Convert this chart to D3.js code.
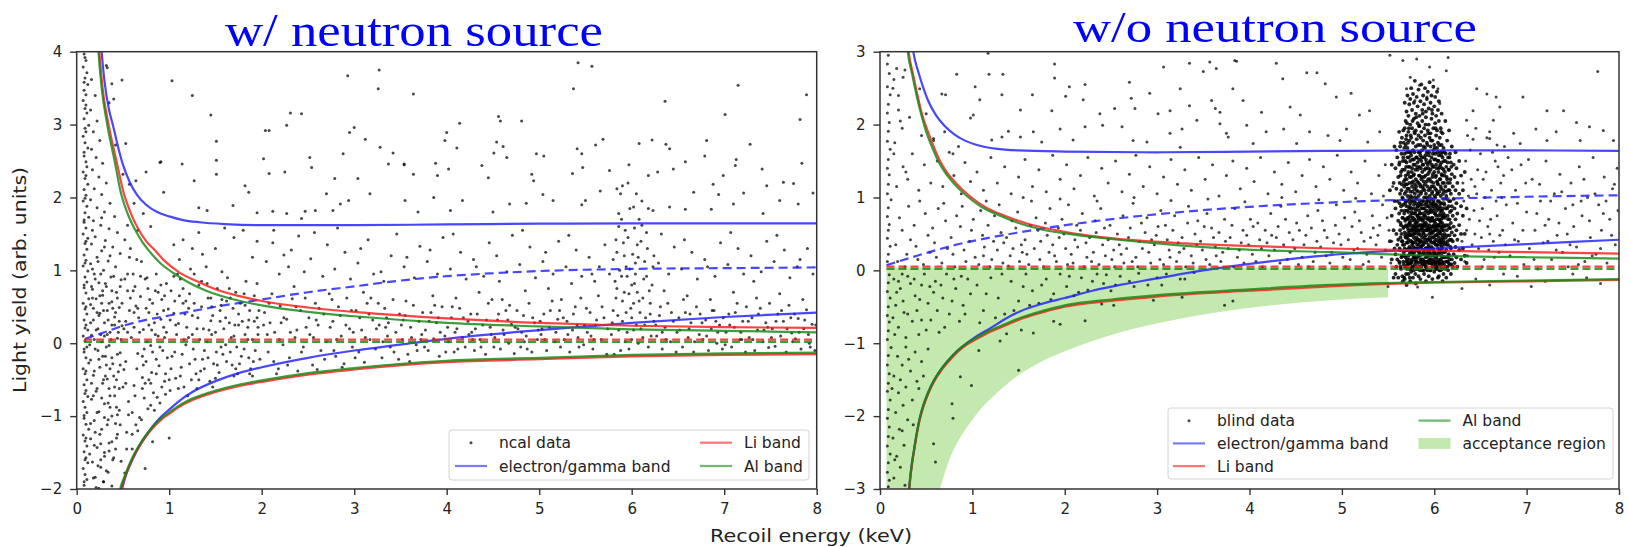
<!DOCTYPE html>
<html><head><meta charset="utf-8">
<script src="https://cdn.jsdelivr.net/npm/d3@7"></script>
<style>body{margin:0;background:#fff}svg{display:block}</style>
</head><body>
<svg id="chart" width="1629" height="547"></svg>
<script>
const xTicks=[0,1,2,3,4,5,6,7,8];
const yTicksL=[-2,-1,0,1,2,3,4];
const yTicksR=[-3,-2,-1,0,1,2,3];
const titleL="w/ neutron source", titleR="w/o neutron source";
const xLabel="Recoil energy (keV)", yLabel="Light yield (arb. units)";
const legendL=[["ncal data","dot"],["electron/gamma band","eg"],["Li band","li"],["Al band","al"]];
const legendR=[["blind data","dot"],["electron/gamma band","eg"],["Li band","li"],["Al band","al"],["acceptance region","acc"]];

// ---- left panel curves (x keV, light yield) ----
const egUpperL=[[0.25,4.4],[0.27,4.0],[0.3,3.6],[0.35,3.2],[0.39,3.0],[0.45,2.68],[0.5,2.45],[0.57,2.22],[0.65,2.04],[0.75,1.9],[0.87,1.8],[1.0,1.74],[1.15,1.69],[1.33,1.66],[1.6,1.635],[2,1.62],[3,1.62],[4,1.63],[5,1.64],[6,1.645],[7,1.645],[8,1.645]];
const egMeanL=[[0.09,0.06],[0.3,0.15],[0.5,0.24],[0.75,0.32],[1,0.38],[1.5,0.5],[2,0.6],[2.5,0.7],[3,0.78],[3.5,0.86],[4,0.92],[4.5,0.96],[5,0.99],[6,1.02],[7,1.03],[8,1.04]];
const egLowerL=[[0.44,-2.3],[0.49,-2],[0.53,-1.82],[0.58,-1.66],[0.64,-1.5],[0.7,-1.36],[0.77,-1.23],[0.84,-1.11],[0.92,-1.0],[1.0,-0.91],[1.1,-0.8],[1.25,-0.67],[1.5,-0.52],[1.75,-0.41],[2,-0.33],[2.5,-0.2],[3,-0.1],[3.5,-0.02],[4,0.06],[5,0.18],[6,0.28],[7,0.36],[8,0.42]];
const liUpperL=[[0.22,4.5],[0.245,4],[0.28,3.5],[0.345,3],[0.43,2.5],[0.51,2.05],[0.58,1.8],[0.66,1.58],[0.75,1.4],[0.85,1.27],[0.95,1.13],[1.1,0.98],[1.3,0.85],[1.5,0.74],[1.75,0.65],[2,0.58],[2.5,0.49],[3,0.43],[4,0.34],[5,0.28],[6,0.24],[7,0.22],[8,0.21]];
const liLowerL=[[0.43,-2.3],[0.475,-2.02],[0.52,-1.84],[0.57,-1.68],[0.63,-1.52],[0.69,-1.39],[0.76,-1.26],[0.84,-1.14],[0.92,-1.04],[1.0,-0.97],[1.1,-0.88],[1.25,-0.78],[1.5,-0.67],[1.75,-0.59],[2,-0.53],[2.5,-0.43],[3,-0.36],[4,-0.26],[5,-0.22],[6,-0.18],[7,-0.16],[8,-0.15]];
const alUpperL=[[0.21,4.5],[0.235,4],[0.27,3.5],[0.33,3],[0.41,2.5],[0.48,2.05],[0.55,1.78],[0.63,1.56],[0.72,1.37],[0.82,1.21],[0.92,1.08],[1.05,0.96],[1.2,0.84],[1.4,0.72],[1.7,0.6],[2,0.52],[2.5,0.43],[3,0.37],[4,0.28],[5,0.23],[6,0.19],[7,0.17],[8,0.15]];
const alLowerL=[[0.43,-2.3],[0.47,-2],[0.52,-1.82],[0.57,-1.66],[0.63,-1.5],[0.69,-1.37],[0.76,-1.24],[0.84,-1.12],[0.92,-1.02],[1.0,-0.95],[1.1,-0.86],[1.25,-0.76],[1.5,-0.65],[1.75,-0.57],[2,-0.51],[2.5,-0.41],[3,-0.34],[4,-0.24],[5,-0.2],[6,-0.16],[7,-0.14],[8,-0.13]];
const liMeanL=[[0.08,0.05],[8,0.05]];
const alMeanL=[[0.08,0.02],[8,0.02]];

// ---- right panel curves ----
const egUpperR=[[0.32,3.4],[0.36,3],[0.42,2.7],[0.47,2.5],[0.52,2.33],[0.6,2.14],[0.7,1.98],[0.8,1.87],[0.92,1.78],[1.08,1.71],[1.25,1.67],[1.5,1.645],[2,1.63],[3,1.62],[4,1.63],[5,1.64],[6,1.645],[7,1.645],[8,1.64]];
const egMeanR=[[0.07,0.07],[0.4,0.2],[0.79,0.34],[1.5,0.52],[2.24,0.66],[3,0.77],[3.86,0.86],[4.87,0.93],[6,0.98],[7,1.01],[8,1.03]];
const egLowerR=[[0.29,-3.4],[0.315,-3],[0.34,-2.7],[0.37,-2.45],[0.4,-2.22],[0.43,-2.03],[0.47,-1.85],[0.52,-1.68],[0.58,-1.52],[0.66,-1.36],[0.75,-1.22],[0.84,-1.1],[0.94,-1.0],[1.05,-0.9],[1.2,-0.79],[1.35,-0.67],[1.52,-0.56],[1.75,-0.46],[2,-0.38],[2.3,-0.28],[2.6,-0.2],[3,-0.11],[3.5,0.0],[4.2,0.12],[4.87,0.21],[6,0.3],[7,0.36],[8,0.42]];
const liUpperR=[[0.28,3.4],[0.31,3],[0.36,2.68],[0.41,2.38],[0.46,2.12],[0.52,1.9],[0.58,1.7],[0.65,1.5],[0.72,1.35],[0.82,1.2],[0.97,1.02],[1.15,0.86],[1.37,0.74],[1.6,0.64],[1.87,0.56],[2.3,0.47],[2.78,0.41],[3.3,0.37],[3.86,0.34],[4.87,0.3],[6,0.27],[7,0.25],[8,0.23]];
const liLowerR=[[0.29,-3.4],[0.315,-3.02],[0.34,-2.72],[0.37,-2.47],[0.4,-2.24],[0.43,-2.05],[0.47,-1.87],[0.52,-1.7],[0.58,-1.54],[0.66,-1.38],[0.75,-1.24],[0.84,-1.12],[0.94,-1.02],[1.05,-0.94],[1.2,-0.84],[1.35,-0.76],[1.5,-0.68],[1.75,-0.58],[2,-0.5],[2.5,-0.42],[3,-0.36],[4,-0.28],[4.87,-0.22],[6,-0.17],[7,-0.15],[8,-0.13]];
const alUpperR=[[0.27,3.4],[0.3,3],[0.35,2.68],[0.4,2.38],[0.45,2.12],[0.5,1.9],[0.56,1.7],[0.63,1.5],[0.7,1.35],[0.8,1.19],[0.93,1.03],[1.1,0.87],[1.3,0.75],[1.5,0.65],[1.75,0.56],[2.1,0.49],[2.5,0.43],[3,0.37],[3.86,0.29],[4.87,0.25],[6,0.2],[7,0.18],[8,0.16]];
const alLowerR=[[0.29,-3.4],[0.315,-3],[0.34,-2.7],[0.37,-2.45],[0.4,-2.22],[0.43,-2.03],[0.47,-1.85],[0.52,-1.68],[0.58,-1.52],[0.66,-1.36],[0.75,-1.22],[0.84,-1.1],[0.94,-1.0],[1.05,-0.92],[1.2,-0.82],[1.35,-0.74],[1.5,-0.66],[1.75,-0.56],[2,-0.48],[2.5,-0.4],[3,-0.34],[4,-0.26],[4.87,-0.2],[6,-0.16],[7,-0.14],[8,-0.12]];
const liMeanR=[[0.07,0.05],[8,0.05]];
const alMeanR=[[0.07,0.02],[8,0.02]];
const accLowerR=[[0.07,-3.6],[0.5,-3.6],[0.6,-3.25],[0.65,-3.0],[0.75,-2.6],[0.87,-2.29],[1.0,-2.05],[1.08,-1.92],[1.25,-1.7],[1.52,-1.42],[1.75,-1.25],[1.98,-1.12],[2.3,-0.97],[2.6,-0.85],[3.14,-0.69],[3.9,-0.53],[4.87,-0.41],[5.5,-0.37]];
const accTopR=0.04;

// ---- scatter: ncal data (flat x,y pairs) ----
const ncalData=[
0.08,3.97,0.1,3.88,0.07,3.79,0.11,3.71,0.09,3.64,0.12,3.55,0.08,3.47,0.1,3.41,0.07,3.33,0.09,3.22,0.11,3.16,0.08,3.08,0.13,2.99,0.1,2.9,0.07,2.84,0.09,2.75,0.12,2.68,0.08,2.57,0.1,2.49,0.11,2.42,0.07,2.35,0.09,2.26,0.12,2.18,0.08,2.11,0.1,2.03,0.07,1.95,0.11,1.88,0.09,1.79,0.13,1.73,0.08,1.66,0.1,1.58,0.07,1.5,0.12,1.44,0.09,1.37,0.11,1.29,0.08,1.21,0.1,1.14,0.07,1.06,0.12,0.99,0.09,0.91,0.11,0.84,0.08,0.76,0.1,0.69,0.13,0.61,0.07,0.55,0.09,0.47,0.11,0.4,0.08,0.32,0.1,0.25,0.12,0.18,0.07,0.1,0.09,0.03,0.11,-0.05,0.08,-0.12,0.1,-0.2,0.13,-0.27,0.07,-0.35,0.09,-0.42,0.11,-0.5,0.08,-0.57,0.1,-0.65,0.12,-0.73,0.07,-0.8,0.09,-0.88,0.11,-0.95,0.08,-1.03,0.1,-1.11,0.13,-1.18,0.07,-1.26,0.09,-1.34,0.11,-1.41,0.08,-1.49,0.1,-1.57,0.12,-1.64,0.07,-1.72,0.09,-1.8,0.11,-1.87,0.08,-1.95,
0.09,3.92,0.08,3.58,0.1,3.27,0.09,2.95,0.08,2.62,0.1,2.3,0.09,1.99,0.08,1.69,0.1,1.4,0.09,1.1,0.08,0.8,0.1,0.5,0.09,0.21,0.08,-0.08,0.1,-0.38,0.09,-0.69,0.08,-0.99,0.1,-1.3,0.09,-1.6,0.08,-1.9,
0.16,3.62,0.2,3.4,0.15,3.2,0.22,3.05,0.18,2.9,0.25,2.78,0.16,2.66,0.21,2.55,0.28,2.47,0.17,2.38,0.24,2.28,0.32,2.2,0.19,2.12,0.27,2.04,0.15,1.97,0.36,1.92,0.22,1.86,0.3,1.8,0.41,1.74,0.18,1.68,0.26,1.62,0.35,1.57,0.44,1.52,0.2,1.46,0.31,1.41,0.16,1.36,0.39,1.32,0.27,1.27,0.47,1.23,0.22,1.18,0.34,1.13,0.15,1.09,0.42,1.05,0.29,1.0,0.19,0.95,0.37,0.91,0.48,0.87,0.24,0.83,0.32,0.78,0.17,0.74,0.43,0.7,0.28,0.66,0.21,0.61,0.38,0.57,0.15,0.53,0.46,0.49,0.33,0.45,0.25,0.41,0.41,0.36,0.18,0.32,0.3,0.28,0.49,0.24,0.23,0.2,0.36,0.15,0.16,0.11,0.44,0.07,0.27,0.02,0.35,-0.03,0.2,-0.08,0.47,-0.13,0.31,-0.18,0.15,-0.23,0.39,-0.28,0.25,-0.33,0.45,-0.39,0.18,-0.44,0.33,-0.49,0.28,-0.55,0.41,-0.6,0.21,-0.66,0.36,-0.72,0.16,-0.77,0.3,-0.83,0.43,-0.88,0.24,-0.94,0.38,-1.0,0.19,-1.06,0.33,-1.12,0.27,-1.18,0.44,-1.25,0.15,-1.31,0.35,-1.37,0.22,-1.43,0.3,-1.5,0.4,-1.57,0.17,-1.63,0.26,-1.7,0.34,-1.77,0.2,-1.84,0.29,-1.9,0.38,-1.96,0.24,-1.99,
0.33,3.78,0.38,3.56,0.35,3.3,0.42,2.72,0.5,2.32,0.57,2.18,0.62,1.92,0.72,1.78,0.55,1.62,0.66,1.55,0.8,1.6,0.75,2.35,
0.52,1.42,0.57,1.18,0.61,0.95,0.55,0.72,0.64,0.51,0.53,0.3,0.59,0.08,0.66,-0.14,0.51,-0.36,0.62,-0.58,0.56,-0.8,0.68,-1.02,0.54,-1.22,0.6,-1.45,0.7,1.12,0.74,0.88,0.69,0.64,0.78,0.42,0.72,0.19,0.8,-0.03,0.75,-0.25,0.71,-0.47,0.83,-0.68,0.77,-0.9,0.86,0.95,0.88,0.7,0.82,0.55,0.91,0.33,0.85,0.12,0.93,-0.1,0.89,-0.31,0.95,-0.52,0.87,-0.74,0.97,0.82,0.99,0.47,0.94,0.22,0.98,-0.2,0.96,-0.42,0.58,1.3,0.63,0.78,0.67,0.35,0.73,-0.08,0.79,0.6,0.84,0.28,0.9,-0.05,0.57,0.45,0.53,-0.55,0.65,-0.35,0.76,0.02,0.81,-0.4,0.92,0.6,0.6,-0.95,0.66,-1.2,0.73,-0.75,0.55,0.15,0.69,0.92,0.86,-0.22,0.95,0.08,0.8,-0.55,0.62,0.22,0.71,-0.62,0.52,0.88,0.78,0.25,
0.82,-1.35,0.74,-1.72,1.0,-1.3,0.52,-1.78,
1.02,0.72,1.05,0.41,1.08,0.12,1.03,-0.18,1.07,-0.48,1.12,0.88,1.15,0.55,1.1,0.27,1.18,-0.02,1.13,-0.33,1.16,-0.6,1.22,0.68,1.25,0.38,1.21,0.08,1.28,-0.22,1.24,-0.5,1.32,0.8,1.35,0.5,1.3,0.2,1.38,-0.1,1.34,-0.38,1.42,0.62,1.45,0.31,1.41,0.02,1.48,-0.28,1.44,-0.52,1.52,0.75,1.55,0.45,1.5,0.15,1.58,-0.15,1.54,-0.4,1.62,0.58,1.65,0.28,1.61,-0.02,1.68,-0.3,1.72,0.7,1.75,0.4,1.7,0.1,1.78,-0.18,1.74,-0.42,1.82,0.52,1.85,0.22,1.81,-0.08,1.88,-0.35,1.92,0.65,1.95,0.35,1.9,0.05,1.98,-0.22,1.27,0.95,1.4,1.05,1.57,0.98,1.83,0.85,1.11,1.15,1.36,1.22,1.63,0.9,1.2,-0.72,1.47,-0.6,1.06,0.58,1.19,0.22,1.33,0.05,1.46,0.5,1.59,0.2,1.73,-0.05,1.87,0.45,1.96,0.12,1.14,-0.15,1.29,-0.42,1.43,0.18,1.66,0.62,1.79,0.3,1.93,-0.1,1.01,-0.65,1.23,1.02,1.56,-0.05,1.69,0.48,1.86,-0.2,1.09,0.95,
1.15,1.42,1.32,1.52,1.5,1.3,1.7,1.45,1.9,1.18,1.8,1.55,1.25,1.3,1.6,1.58,1.05,1.35,1.95,1.4,
1.03,3.6,1.25,3.4,1.45,3.13,1.51,2.77,1.51,2.51,1.51,2.32,0.91,2.49,1.14,2.46,1.27,2.23,1.32,1.86,1.41,1.82,2.04,2.92,2.08,2.92,2.27,2.99,2.31,3.16,2.43,3.15,2.02,2.53,2.08,2.33,2.25,2.35,2.52,2.55,2.54,2.41,2.93,3.67,3.27,3.75,3.26,3.49,2.95,2.89,3.0,2.96,3.12,2.8,2.88,2.6,3.28,2.69,3.42,2.61,3.37,2.46,3.54,2.46,3.64,3.42,3.04,2.26,3.17,2.05,2.94,1.96,2.85,1.91,2.79,2.26,2.7,2.05,2.77,1.82,2.58,1.82,2.47,1.81,2.43,1.71,2.27,1.78,2.12,1.81,1.95,1.79,1.82,2.16,1.86,2.07,1.69,1.89,2.13,1.55,0.49,3.61,0.32,3.81,0.4,3.35,0.53,2.74,0.64,2.23,0.94,2.07,0.9,2.48,
5.42,3.85,5.57,3.8,5.37,3.49,4.14,3.02,4.58,3.05,4.81,3.05,4.56,3.11,4.0,2.89,3.98,2.78,4.11,2.68,4.54,2.76,4.61,2.7,4.51,2.61,4.65,2.55,4.97,2.6,5.05,2.57,5.41,2.67,5.46,2.6,5.61,2.72,5.69,2.8,6.08,2.74,6.22,2.79,6.37,2.73,6.41,2.67,6.36,3.32,7.15,3.54,7.01,3.14,7.28,2.73,6.81,2.78,6.79,2.57,7.89,3.41,7.82,3.07,7.84,2.47,7.13,2.52,7.12,2.44,3.54,2.45,3.88,2.47,3.64,2.32,3.9,2.3,4.02,2.39,4.38,2.44,4.45,2.27,4.92,2.32,4.94,2.23,5.36,2.33,5.47,2.41,5.76,2.37,5.97,2.45,6.18,2.3,6.28,2.35,6.45,2.39,6.58,2.49,6.88,2.18,6.99,2.3,7.41,2.39,7.46,2.16,7.64,2.21,7.75,2.19,7.96,2.06,7.8,1.91,7.6,1.96,7.1,1.91,7.21,2.06,6.94,2.04,6.67,2.07,6.58,1.84,6.41,1.87,6.23,1.82,6.05,2.05,5.9,2.16,5.84,2.12,5.66,2.09,5.5,1.96,5.46,1.9,5.15,1.96,5.04,2.04,4.86,1.92,4.68,1.91,4.5,1.8,4.17,1.96,4.04,1.82,3.86,2.0,3.69,1.8,3.55,1.96,5.86,1.78,6.02,1.87,7.42,1.78,6.86,1.84,
2.03,0.42,2.07,-0.12,2.11,0.68,2.14,0.15,2.18,-0.35,2.2,0.51,2.23,-0.02,2.09,0.28,2.16,-0.42,2.05,1.12,2.19,0.95,2.12,1.38,2.24,1.21,
2.27,0.33,2.3,-0.2,2.33,0.61,2.36,0.08,2.39,-0.38,2.42,0.45,2.45,-0.05,2.48,0.22,2.35,0.78,2.29,1.05,2.4,1.47,2.46,0.98,2.32,1.28,
2.52,0.12,2.55,-0.3,2.58,0.55,2.61,0.25,2.64,-0.1,2.67,0.4,2.7,0.02,2.73,0.68,2.6,-0.36,2.53,1.16,2.66,0.92,2.71,1.35,2.57,1.52,
2.77,0.3,2.8,-0.18,2.83,0.5,2.86,0.1,2.89,-0.28,2.92,0.62,2.95,0.2,2.98,-0.05,2.85,0.38,2.79,1.02,2.9,1.25,2.96,0.88,2.82,1.58,
3.02,0.45,3.05,-0.12,3.08,0.18,3.11,-0.26,3.14,0.55,3.17,0.05,3.2,0.32,3.23,-0.08,3.1,0.7,3.04,1.1,3.15,1.42,3.21,0.95,3.07,1.3,
3.27,0.25,3.3,-0.2,3.33,0.48,3.36,0.1,3.39,-0.05,3.42,0.6,3.45,0.15,3.48,-0.22,3.35,0.35,3.29,0.98,3.4,1.2,3.46,1.5,3.32,0.85,
3.52,0.05,3.55,0.38,3.58,-0.15,3.61,0.22,3.64,0.52,3.67,-0.02,3.7,0.3,3.73,0.12,3.6,-0.25,3.54,1.05,3.65,0.9,3.71,1.33,3.57,1.18,
3.77,0.18,3.8,-0.1,3.83,0.42,3.86,0.06,3.89,0.28,3.92,-0.18,3.95,0.5,3.98,0.1,3.85,0.65,3.79,1.12,3.9,0.95,3.96,1.45,3.82,1.28,
4.02,0.02,4.05,0.35,4.08,-0.12,4.11,0.2,4.14,0.48,4.17,0.08,4.2,-0.05,4.23,0.3,4.1,0.62,4.04,1.02,4.15,1.25,4.21,0.88,4.07,1.5,
4.27,0.15,4.3,-0.1,4.33,0.4,4.36,0.05,4.39,0.25,4.42,-0.15,4.45,0.55,4.48,0.12,4.35,0.7,4.29,1.15,4.4,0.92,4.46,1.38,4.32,1.05,
4.52,0.08,4.55,0.32,4.58,-0.08,4.61,0.18,4.64,0.45,4.67,0.0,4.7,0.26,4.73,-0.14,4.6,0.6,4.54,1.2,4.65,0.98,4.71,1.48,4.57,0.85,
4.77,0.2,4.8,-0.05,4.83,0.38,4.86,0.1,4.89,0.55,4.92,-0.12,4.95,0.28,4.98,0.05,4.85,0.72,4.79,1.08,4.9,1.32,4.96,0.9,4.82,1.55,
5.02,0.12,5.05,0.4,5.08,-0.1,5.11,0.22,5.14,0.58,5.17,0.02,5.2,0.33,5.23,-0.05,5.1,0.75,5.04,1.12,5.15,0.95,5.21,1.4,5.07,1.25,
5.27,0.05,5.3,0.3,5.33,-0.12,5.36,0.18,5.39,0.5,5.42,0.08,5.45,0.62,5.48,-0.02,5.35,0.82,5.29,1.05,5.4,1.28,5.46,0.92,5.32,1.48,
5.52,0.15,5.55,0.42,5.58,-0.08,5.61,0.25,5.64,0.65,5.67,0.05,5.7,0.35,5.73,-0.15,5.6,0.85,5.54,1.18,5.65,1.05,5.71,1.35,5.57,0.95,
6.27,0.1,6.3,0.38,6.33,-0.08,6.36,0.22,6.39,0.55,6.42,0.02,6.45,0.3,6.48,-0.12,6.35,0.72,6.29,1.1,6.4,0.95,6.46,1.32,6.32,1.5,
6.52,0.18,6.55,-0.05,6.58,0.42,6.61,0.08,6.64,0.28,6.67,-0.12,6.7,0.5,6.73,0.12,6.6,0.65,6.54,1.02,6.65,1.25,6.71,0.88,6.57,1.42,
6.77,0.05,6.8,0.32,6.83,-0.1,6.86,0.2,6.89,0.45,6.92,0.0,6.95,0.25,6.98,-0.08,6.85,0.6,6.79,1.15,6.9,0.92,6.96,1.38,6.82,1.05,
7.02,0.15,7.05,0.4,7.08,-0.05,7.11,0.22,7.14,0.55,7.17,0.05,7.2,0.3,7.23,-0.12,7.1,0.7,7.04,1.08,7.15,1.3,7.21,0.95,7.07,1.52,
7.27,0.08,7.3,0.35,7.33,-0.1,7.36,0.18,7.39,0.48,7.42,0.02,7.45,0.28,7.48,-0.06,7.35,0.62,7.29,1.2,7.4,0.98,7.46,1.4,7.32,0.85,
7.52,0.2,7.55,-0.04,7.58,0.4,7.61,0.1,7.64,0.3,7.67,-0.12,7.7,0.52,7.73,0.14,7.6,0.68,7.54,1.12,7.65,1.28,7.71,0.9,7.57,1.48,
7.77,0.06,7.8,0.34,7.83,-0.08,7.86,0.2,7.89,0.46,7.92,0.0,7.95,0.26,7.98,-0.1,7.85,0.6,7.79,1.05,7.9,1.3,7.96,0.95,7.82,1.15,
5.78,0.12,5.8,0.45,5.82,0.85,5.84,1.25,5.86,1.6,5.88,-0.1,5.9,0.3,5.92,0.7,5.94,1.05,5.96,1.45,5.98,1.85,6.0,0.05,6.02,0.55,6.04,0.95,6.06,1.35,6.08,1.7,6.1,0.2,6.12,0.62,6.14,1.12,6.16,1.52,6.18,-0.05,6.2,0.4,6.22,0.8,6.24,1.2,5.79,0.28,5.83,0.62,5.87,1.0,5.91,1.38,5.95,0.15,5.99,0.48,6.03,0.82,6.07,1.18,6.11,1.95,6.15,0.35,6.19,0.72,6.23,1.05,5.81,-0.15,5.85,0.38,5.89,0.92,5.93,1.55,5.97,0.68,6.01,1.22,6.05,0.25,6.09,0.42,6.13,0.88,6.17,1.3,6.21,0.1,5.76,0.95,5.88,2.05,5.96,2.2,6.03,1.58,6.1,1.4,5.93,0.02,6.0,0.35,6.06,0.7,5.98,1.02,5.9,0.58,6.12,0.08,6.16,0.92,5.86,0.18,6.02,0.18,5.94,0.42,6.08,0.58,5.84,0.75,6.2,0.55,5.97,-0.08,6.04,1.1,5.92,1.2,6.14,0.25,5.8,1.15,6.24,0.3,6.0,0.8,6.07,0.0,5.95,0.92,5.89,1.7,6.11,1.62,6.18,1.85,5.83,1.42,
0.17,0.62,0.23,-0.1,0.29,0.45,0.35,-0.62,0.41,0.25,0.46,-0.92,0.19,-1.4,0.26,0.95,0.32,-0.3,0.38,0.72,0.44,-0.15,0.48,-1.62,0.21,0.18,0.27,-0.75,0.34,-1.05,0.4,-0.45,0.16,-0.55,0.24,0.38,0.3,-1.55,0.37,0.05,0.43,-1.3,0.49,0.55,0.18,-1.85,0.25,-1.25,0.31,0.82,0.36,-0.88,0.42,0.42,0.47,-0.3,0.2,0.88,0.28,-0.18,0.33,0.12,0.39,-1.6,0.45,0.15,0.15,0.28,0.22,-0.95,0.29,-1.9,0.35,0.55,0.41,-0.72,0.47,0.78,0.19,-0.38,0.26,-1.6,0.32,-0.05,0.38,-1.35,0.44,0.62,0.5,-0.6,0.23,1.12,0.3,1.32,0.17,1.55,0.36,1.2,0.27,1.72,
0.14,-0.02,0.18,0.48,0.22,-0.62,0.26,0.12,0.3,-1.02,0.34,0.32,0.38,-0.2,0.42,-1.1,0.46,0.3,0.15,-1.1,0.19,0.05,0.23,-1.68,0.27,0.55,0.31,-0.45,0.35,-1.48,0.39,0.48,0.43,-0.5,0.47,-1.12,0.16,0.78,0.2,-1.22,0.24,-0.22,0.28,0.72,0.32,-1.75,0.36,-0.35,0.4,0.92,0.44,-0.98,0.48,0.05,0.14,-1.52,0.18,-0.72,0.22,0.42,0.26,-1.38,0.3,0.1,0.34,-0.82,0.38,0.25,0.42,-1.45,0.46,-0.62,0.17,1.02,0.21,-1.98,0.25,0.65,0.29,-0.5,
0.53,-0.25,0.58,0.62,0.63,-0.72,0.68,0.15,0.72,-0.3,0.77,0.75,0.82,-0.12,0.87,0.4,0.92,-0.6,0.97,0.15,1.02,-0.35,1.07,0.25,1.12,-0.45,1.17,0.4,1.22,-0.28,1.27,0.55,1.32,-0.5,1.37,0.2,1.42,-0.2,1.47,0.38,1.52,-0.3,1.57,0.6,1.62,-0.25,1.67,0.08,1.72,-0.35,1.77,0.55,1.82,0.12,1.87,-0.42,1.92,0.3,1.97,0.45,0.55,0.95,0.65,1.15,0.75,0.48,0.85,0.72,0.95,0.65,1.05,0.92,1.15,0.75,1.25,0.12,1.35,0.85,1.45,0.62,1.55,0.3,1.65,0.75,1.75,0.25,1.85,0.05,1.95,0.82,0.6,-1.25,0.7,-1.05,0.8,-0.85,0.9,-0.82,1.0,-0.5,1.1,-0.62,1.3,-0.62,1.5,-0.48,1.7,-0.45,1.9,-0.45,0.62,0.42,0.78,-0.5,0.88,0.1,1.18,0.58,1.38,-0.35,
0.51,0.2,0.56,-0.98,0.61,0.72,0.66,0.48,0.71,-0.18,0.76,0.9,0.81,0.18,0.86,-0.42,0.91,0.8,0.96,-0.7,1.01,0.32,1.06,-0.12,1.11,0.65,1.16,0.05,1.21,0.48,1.26,-0.08,1.31,0.35,1.36,-0.22,1.41,0.82,1.46,0.12,1.51,-0.12,1.56,0.52,1.61,0.35,1.66,-0.12,1.71,0.25,1.76,-0.28,1.81,0.68,1.86,0.32,1.91,-0.25,1.96,0.22,0.54,-1.45,0.64,-1.12,0.74,-0.55,0.84,-0.92,0.94,0.45,
2.02,0.25,2.08,0.55,2.13,-0.25,2.19,0.05,2.24,0.35,2.28,-0.3,2.31,0.15,2.37,0.5,2.43,-0.12,2.47,0.62,2.51,0.35,2.56,0.08,2.62,0.48,2.68,-0.22,2.74,0.22,2.76,0.6,2.81,0.05,2.87,-0.33,2.91,0.25,2.97,0.45,3.01,-0.2,3.06,0.35,3.12,0.08,3.18,0.62,3.24,0.2,3.26,0.55,3.31,0.02,3.37,0.28,3.43,-0.12,3.49,0.4,3.51,0.25,3.56,0.58,3.62,0.08,3.68,-0.1,3.74,0.42,3.76,-0.05,3.81,0.3,3.87,0.52,3.93,0.15,3.99,-0.12,4.01,0.22,4.06,0.5,4.12,-0.08,4.18,0.35,4.24,0.12,4.26,0.4,4.31,0.2,4.37,-0.05,4.43,0.32,4.49,0.6,4.51,-0.05,4.56,0.4,4.62,0.12,4.68,0.52,4.74,0.22,4.76,0.45,4.81,0.15,4.87,-0.08,4.93,0.35,4.99,0.18,5.01,0.3,5.06,0.05,5.12,0.45,5.18,0.15,5.24,0.6,5.26,0.35,5.31,0.12,5.37,0.4,5.43,-0.05,5.49,0.25,5.51,0.48,5.56,0.1,5.62,0.32,5.68,0.5,5.74,0.2,6.26,0.25,6.31,0.5,6.37,0.05,6.43,0.42,6.49,0.15,6.51,0.35,6.56,0.6,6.62,0.2,6.68,0.02,6.74,0.4,6.76,0.28,6.81,0.1,6.87,0.45,6.93,0.15,6.99,0.35,7.01,-0.02,7.06,0.25,7.12,0.42,7.18,0.15,7.24,0.5,7.26,0.3,7.31,0.05,7.37,0.4,7.43,0.18,7.49,0.55,7.51,0.08,7.56,0.3,7.62,0.45,7.68,0.2,7.74,0.02,7.76,0.4,7.81,0.15,7.87,0.32,7.93,-0.05,7.99,0.25,
2.06,0.12,2.21,0.28,2.38,0.18,2.59,0.32,2.78,-0.1,2.99,0.15,3.16,0.4,3.34,0.22,3.53,0.32,3.72,0.05,3.91,0.35,4.09,0.15,4.28,0.05,4.47,0.22,4.66,0.32,4.84,0.02,5.03,0.2,5.22,0.45,5.41,0.25,5.59,0.05,6.33,0.15,6.63,0.4,6.91,0.3,7.19,0.05,7.47,0.22,7.72,0.35,7.91,0.12
];

// ---- scatter: blind data (flat x,y pairs) ----
const blindData=[
0.09,2.95,0.08,2.83,0.1,2.7,0.08,2.52,0.11,2.41,0.09,2.28,0.08,2.16,0.1,2.03,0.09,1.91,0.08,1.77,0.11,1.66,0.09,1.52,0.08,1.4,0.1,1.31,0.09,1.18,0.08,1.05,0.12,0.97,0.09,0.86,0.08,0.74,0.1,0.63,0.09,0.55,0.08,0.44,0.11,0.33,0.09,0.22,0.08,0.12,0.1,-0.06,0.09,-0.17,0.08,-0.29,0.11,-0.38,0.09,-0.5,0.08,-0.62,0.1,-0.71,0.09,-0.83,0.08,-0.95,0.12,-1.06,0.09,-1.17,0.08,-1.3,0.1,-1.42,0.09,-1.55,0.08,-1.66,0.11,-1.78,0.09,-1.91,0.08,-2.03,0.1,-2.15,0.09,-2.28,0.08,-2.41,0.11,-2.52,0.09,-2.64,0.08,-2.77,0.1,-2.88,0.09,-2.97,
0.15,-2.85,0.22,-2.7,0.18,-2.55,0.26,-2.4,0.14,-2.3,0.21,-2.18,0.3,-2.05,0.17,-1.95,0.25,-1.85,0.35,-1.78,0.2,-1.68,0.28,-1.6,0.4,-1.52,0.15,-1.45,0.33,-1.38,0.24,-1.3,0.45,-1.25,0.19,-1.18,0.38,-1.12,0.28,-1.05,0.52,-1.08,0.16,-2.6,0.27,-2.95,0.24,-2.2,0.36,-2.12,0.13,-1.62,0.42,-1.62,0.31,-1.22,0.47,-1.45,0.22,-1.5,
0.6,-2.63,0.58,-2.38,0.78,-1.83,0.79,-2.03,0.99,-1.58,0.87,-1.46,1.5,-1.37,1.3,-0.97,1.07,-1.1,1.53,-0.82,1.88,-0.7,1.95,-0.74,2.22,-0.69,1.66,-0.86,2.53,-0.48,2.96,-0.41,3.27,-0.37,3.73,-0.48,3.82,-0.42,2.4,-0.46,1.37,-0.87,
0.15,-0.12,0.22,-0.25,0.3,-0.08,0.38,-0.35,0.17,-0.48,0.26,-0.58,0.45,-0.2,0.52,-0.45,0.35,-0.7,0.2,-0.78,0.6,-0.15,0.68,-0.38,0.42,-0.88,0.28,-0.92,0.55,-0.68,0.75,-0.6,0.82,-0.25,0.9,-0.48,0.64,-0.85,0.48,-0.05,0.95,-0.12,0.72,-0.05,0.33,-0.18,0.58,-0.3,0.86,-0.7,0.18,-0.3,0.4,-0.55,0.25,-0.42,0.14,-0.65,0.5,-0.82,0.78,-0.42,0.62,-0.55,0.37,-0.12,0.24,-0.05,0.88,-0.08,0.98,-0.32,0.7,-0.78,0.45,-0.68,0.3,-0.6,0.16,-0.88,0.54,-0.22,0.8,-0.12,0.66,-0.2,0.92,-0.6,0.2,-0.15,0.43,-0.4,
1.05,-0.2,1.12,-0.55,1.2,-0.1,1.28,-0.38,1.35,-0.6,1.42,-0.15,1.5,-0.42,1.58,-0.05,1.65,-0.28,1.72,-0.45,1.8,-0.12,1.88,-0.32,1.95,-0.05,2.02,-0.22,2.1,-0.35,2.18,-0.1,2.25,-0.27,2.35,-0.05,2.42,-0.18,2.5,-0.28,2.6,-0.08,2.7,-0.15,2.8,-0.04,2.9,-0.2,3.0,-0.1,3.1,-0.05,3.25,-0.12,3.4,-0.03,1.08,-0.72,1.15,-0.32,1.25,-0.65,1.32,-0.05,1.45,-0.55,1.55,-0.22,1.62,-0.48,1.75,-0.2,1.85,-0.4,2.05,-0.08,2.15,-0.3,2.3,-0.15,2.45,-0.06,2.55,-0.2,2.75,-0.22,3.05,-0.2,3.3,-0.12,
0.17,0.35,0.21,0.72,0.19,0.12,0.24,0.55,0.27,0.05,0.31,0.88,0.33,0.42,0.29,0.22,0.37,0.62,0.41,0.15,0.43,0.95,0.39,0.33,0.47,0.08,0.52,0.48,0.49,0.78,0.54,0.25,0.57,0.58,0.61,0.18,0.63,0.85,0.59,0.38,0.67,0.1,0.71,0.68,0.73,0.3,0.69,0.92,0.77,0.45,0.81,0.05,0.83,0.75,0.79,0.22,0.87,0.6,0.91,0.28,0.93,0.12,0.89,0.88,0.97,0.4,1.01,0.7,1.03,0.18,0.99,0.55,
1.07,0.08,1.11,0.48,1.13,0.32,1.09,0.82,1.12,0.2,1.17,0.62,1.21,0.15,1.23,0.4,1.19,0.05,1.24,0.75,1.27,0.28,1.31,0.52,1.33,0.1,1.29,0.9,1.34,0.38,1.37,0.45,1.41,0.2,1.43,0.68,1.39,0.06,1.44,0.3,1.47,0.58,1.51,0.12,1.53,0.35,1.49,0.8,1.54,0.25,1.57,0.42,1.61,0.08,1.63,0.62,1.59,0.22,1.64,0.95,1.67,0.3,1.71,0.55,1.73,0.15,1.69,0.72,1.74,0.4,1.77,0.05,1.81,0.48,1.83,0.25,1.79,0.65,1.84,0.85,1.87,0.35,1.91,0.12,1.93,0.58,1.89,0.2,1.94,0.45,1.97,0.7,2.01,0.3,2.03,0.08,1.99,0.5,2.04,0.9,
2.07,0.22,2.11,0.42,2.13,0.62,2.09,0.1,2.14,0.32,2.17,0.55,2.21,0.05,2.23,0.38,2.19,0.78,2.24,0.18,2.27,0.45,2.31,0.25,2.33,0.68,2.29,0.12,2.34,0.52,2.37,0.08,2.41,0.35,2.43,0.58,2.39,0.85,2.44,0.2,2.47,0.42,2.51,0.15,2.53,0.28,2.49,0.62,2.54,0.05,2.57,0.5,2.61,0.22,2.63,0.75,2.59,0.35,2.64,0.1,2.67,0.3,2.71,0.58,2.73,0.12,2.69,0.45,2.74,0.92,2.77,0.18,2.81,0.4,2.83,0.65,2.79,0.05,2.84,0.3,2.87,0.52,2.91,0.25,2.93,0.1,2.89,0.72,2.94,0.42,2.97,0.35,3.01,0.6,3.03,0.15,2.99,0.48,3.04,0.82,
3.07,0.08,3.11,0.42,3.13,0.28,3.09,0.62,3.14,0.18,3.17,0.55,3.21,0.12,3.23,0.38,3.19,0.75,3.24,0.25,3.27,0.45,3.31,0.05,3.33,0.65,3.29,0.3,3.34,0.88,3.37,0.2,3.41,0.5,3.43,0.35,3.39,0.1,3.44,0.68,3.47,0.4,3.51,0.6,3.53,0.15,3.49,0.28,3.54,0.78,3.57,0.08,3.61,0.45,3.63,0.32,3.59,0.58,3.64,0.2,3.67,0.52,3.71,0.25,3.73,0.7,3.69,0.12,3.74,0.4,3.77,0.3,3.81,0.62,3.83,0.05,3.79,0.45,3.84,0.85,3.87,0.18,3.91,0.38,3.93,0.55,3.89,0.28,3.94,0.1,3.97,0.48,4.01,0.7,4.03,0.22,3.99,0.35,4.04,0.6,
4.07,0.12,4.11,0.42,4.13,0.3,4.09,0.65,4.14,0.05,4.17,0.55,4.21,0.2,4.23,0.78,4.19,0.38,4.24,0.48,4.27,0.28,4.31,0.6,4.33,0.1,4.29,0.45,4.34,0.88,4.37,0.35,4.41,0.15,4.43,0.52,4.39,0.7,4.44,0.25,4.47,0.42,4.51,0.65,4.53,0.08,4.49,0.3,4.54,0.55,4.57,0.18,4.61,0.48,4.63,0.75,4.59,0.35,4.64,0.05,4.67,0.58,4.71,0.25,4.73,0.4,4.69,0.12,4.74,0.82,4.77,0.32,4.81,0.55,4.83,0.2,4.79,0.68,4.84,0.45,4.87,0.1,4.91,0.38,4.93,0.62,4.89,0.25,4.94,0.9,4.97,0.5,5.01,0.18,5.03,0.72,4.99,0.35,5.04,0.05,
5.07,0.42,5.11,0.6,5.13,0.28,5.09,0.15,5.14,0.8,5.17,0.3,5.21,0.52,5.23,0.08,5.19,0.68,5.24,0.4,5.27,0.22,5.31,0.45,5.33,0.75,5.29,0.12,5.34,0.58,5.37,0.35,5.41,0.62,5.43,0.18,5.39,0.48,5.44,0.9,5.47,0.28,5.51,0.55,5.53,0.1,5.49,0.72,5.54,0.4,
0.18,1.15,0.25,1.42,0.16,1.75,0.22,2.05,0.3,1.25,0.35,1.6,0.2,2.4,0.27,2.75,0.42,1.1,0.48,1.45,0.55,1.2,0.62,1.5,0.68,1.15,0.75,1.62,0.8,1.3,0.88,1.05,0.92,1.48,0.98,1.22,0.45,1.85,0.58,1.78,0.7,1.9,0.85,1.7,0.15,2.62,0.32,2.1,0.5,2.15,0.18,2.77,0.25,2.65,0.14,2.5,0.2,2.2,0.24,1.95,0.15,1.6,0.28,1.35,
1.05,1.35,1.12,1.1,1.2,1.55,1.27,1.2,1.35,1.42,1.42,1.05,1.5,1.28,1.57,1.52,1.65,1.15,1.72,1.38,1.8,1.08,1.87,1.58,1.95,1.25,2.02,1.45,2.1,1.12,2.17,1.3,2.25,1.55,2.32,1.02,2.4,1.4,2.47,1.2,2.55,1.5,2.62,1.08,2.7,1.32,2.77,1.58,2.85,1.15,2.92,1.42,3.0,1.05,3.07,1.28,3.15,1.52,3.22,1.18,3.3,1.38,3.37,1.1,3.45,1.55,3.52,1.25,3.6,1.45,3.67,1.02,3.75,1.3,3.82,1.5,3.9,1.12,3.97,1.4,4.05,1.22,4.12,1.55,4.2,1.05,4.27,1.35,4.35,1.18,4.42,1.48,4.5,1.08,4.57,1.3,4.65,1.52,4.72,1.15,4.8,1.42,4.87,1.25,4.95,1.58,5.02,1.1,5.1,1.35,5.17,1.2,5.25,1.5,5.32,1.05,5.4,1.3,5.47,1.45,5.55,1.15,1.15,0.95,1.55,1.0,1.95,0.98,2.35,0.95,2.75,1.0,3.15,0.96,3.55,0.98,3.95,0.94,4.35,1.0,4.75,0.97,5.15,0.99,5.45,1.02,
1.17,2.98,0.83,2.69,1.18,2.69,1.33,2.69,1.03,2.52,1.32,2.41,1.08,2.34,0.71,2.41,1.01,2.13,0.98,2.09,1.52,2.2,1.65,2.41,1.89,2.83,1.89,2.64,2.01,2.39,2.05,2.52,2.22,2.55,2.2,2.34,1.86,2.19,1.95,1.94,2.22,1.97,2.09,1.79,1.21,1.79,1.32,1.83,2.38,2.15,2.54,2.22,2.41,1.99,2.7,2.58,2.72,2.36,2.92,2.43,2.76,2.22,2.62,1.97,3.07,2.79,3.35,2.84,3.5,2.73,3.57,2.86,3.64,2.77,3.84,2.88,3.01,2.15,3.14,2.19,3.25,2.49,3.35,2.26,3.59,2.33,3.68,2.17,3.14,1.88,3.27,1.94,3.43,2.06,3.75,1.88,2.74,1.78,2.89,1.76,3.25,1.69,1.39,1.91,1.52,1.83,1.66,1.9,1.75,1.76,0.43,2.49,0.67,2.42,0.58,1.81,0.79,1.6,
3.86,2.87,4.29,2.84,4.36,2.63,4.62,2.71,4.73,2.71,4.82,2.56,3.82,2.49,3.93,2.33,4.13,2.17,4.44,2.24,4.55,2.13,4.94,2.38,5.1,2.43,3.63,2.22,3.68,2.01,3.97,1.99,4.18,1.9,4.37,1.94,4.65,1.9,4.85,1.85,5.05,1.94,5.19,2.13,5.3,2.19,5.41,1.9,5.28,1.76,4.98,1.78,4.51,1.74,4.04,1.74,3.77,1.83,5.52,2.95,5.66,2.88,5.81,2.9,6.15,2.92,5.95,2.79,5.74,2.65,5.84,2.54,5.99,2.61,5.92,2.38,6.04,2.49,6.13,2.74,5.7,2.49,5.79,2.33,6.06,2.29,6.46,2.49,6.57,2.42,6.67,2.38,6.71,2.24,6.96,2.38,7.22,2.19,7.4,2.19,7.77,2.73,7.54,2.03,7.68,1.97,7.83,1.92,7.1,1.94,7.32,1.9,7.94,1.78,6.42,2.19,6.35,2.06,6.64,2.06,6.86,1.88,6.6,1.81,6.93,1.74,7.58,1.78,7.22,1.78,
6.3,0.4,6.32,0.95,6.34,1.5,6.36,0.2,6.38,0.7,6.4,1.25,6.42,1.8,6.44,0.5,6.46,1.05,6.48,0.3,6.5,1.6,6.52,0.85,6.54,0.15,6.56,1.35,6.58,0.6,6.6,1.9,6.62,1.1,6.64,0.4,6.66,1.5,6.68,0.75,6.7,0.25,6.72,1.2,6.74,0.55,6.76,1.7,6.78,0.9,6.31,1.2,6.35,0.55,6.39,1.65,6.43,0.82,6.47,1.38,6.51,0.45,6.55,1.0,6.59,0.28,6.63,1.62,6.67,0.95,6.71,0.48,6.75,1.3,6.33,0.12,6.41,0.35,6.49,0.68,6.57,1.82,6.65,0.18,6.73,1.0,6.37,1.02,6.45,1.95,6.53,1.25,6.61,0.7,6.69,1.42,6.77,0.35,6.8,1.55,6.36,1.85,6.44,1.15,6.52,0.05,6.6,0.5,6.68,1.72,
6.82,0.2,6.85,0.65,6.88,1.1,6.91,0.4,6.94,1.45,6.97,0.08,7.0,0.8,7.03,0.3,7.06,1.25,7.09,0.55,7.12,0.02,7.15,0.95,7.18,0.38,7.21,1.5,7.24,0.7,7.27,0.15,7.3,1.05,7.33,0.48,7.36,1.32,7.39,0.25,7.42,0.85,7.45,0.05,7.48,1.2,7.51,0.6,7.54,0.32,7.57,1.42,7.6,0.75,7.63,0.12,7.66,1.0,7.69,0.45,7.72,1.55,7.75,0.22,7.78,0.9,7.81,0.55,7.84,1.28,7.87,0.1,7.9,0.7,7.93,1.12,7.96,0.35,7.99,0.82,6.84,1.38,6.9,0.92,6.96,0.55,7.02,1.52,7.08,0.15,7.14,1.18,7.2,0.62,7.26,0.95,7.32,0.28,7.38,1.08,7.44,0.5,7.5,0.9,7.56,0.08,7.62,1.25,7.68,0.68,7.74,1.05,7.8,0.3,7.86,0.95,7.92,0.48,7.98,1.4,6.87,0.42,6.99,1.2,7.11,0.78,7.23,0.4,7.35,0.65,7.47,0.35,7.59,0.95,7.71,0.2,7.83,0.78,7.95,1.18,
5.5,-0.22,6.45,-0.12,6.6,-0.2,6.9,-0.08,7.2,-0.15,7.5,-0.05,7.8,-0.18,6.3,-0.25,5.98,-0.37,5.82,-0.23,7.05,-0.22,7.65,-0.1,6.75,-0.05
];

// ---- blind data dense cluster near 6 keV: [x, [y values]] ----
const blindCluster=[
[5.52,[0.4,1.1]],[5.54,[0.15,0.75,1.45]],[5.56,[0.55,1.2,-0.1]],[5.57,[0.3,0.95,1.7]],
[5.58,[0.22,0.85,1.4,-0.05]],[5.59,[0.5,1.12,0.05,1.65]],[5.6,[0.35,0.95,1.55,0.15]],[5.61,[0.68,1.28,-0.1,0.42]],[5.62,[0.12,0.78,1.45,1.9]],[5.63,[0.55,1.05,0.28,1.7]],[5.64,[0.02,0.88,1.35,0.62]],[5.65,[0.4,1.18,1.82,0.2]],[5.66,[0.72,-0.15,1.5,0.98,0.35]],[5.67,[0.25,0.6,1.22,1.75,0.08]],
[5.68,[-0.12,0.3,0.52,0.82,1.05,1.38,1.6,1.95,2.3]],[5.69,[0.05,0.18,0.45,0.95,1.18,1.3,1.72,2.05,0.7]],[5.7,[-0.2,0.38,0.6,0.88,1.25,1.48,1.85,2.18,0.12]],[5.71,[0.08,0.28,0.72,1.02,1.12,1.55,1.68,2.4,0.5]],
[5.72,[-0.05,0.42,0.55,0.8,1.35,1.42,1.9,2.12,0.2,0.62]],[5.73,[0.15,0.32,0.65,0.98,1.2,1.62,1.78,2.28,0.02,0.85]],[5.74,[-0.15,0.25,0.48,0.92,1.08,1.5,2.0,2.35,0.75,0.1]],[5.75,[0.1,0.4,0.68,0.85,1.28,1.58,1.82,2.5,-0.02,0.55]],
[5.76,[0.05,0.35,0.58,1.0,1.15,1.4,1.95,2.2,0.78,0.25]],[5.77,[-0.1,0.22,0.5,0.72,1.22,1.65,1.75,2.42,0.95,0.38]],[5.78,[0.18,0.45,0.62,0.9,1.32,1.52,2.08,2.3,0.0,0.78]],[5.79,[0.08,0.3,0.7,1.05,1.18,1.45,1.88,2.6,0.55,0.18]],
[5.8,[-0.18,0.38,0.52,0.82,1.25,1.7,1.92,2.15,0.15,0.65]],[5.81,[0.12,0.28,0.65,0.98,1.1,1.55,1.8,2.38,0.45,0.85]],[5.82,[0.02,0.42,0.6,0.88,1.38,1.48,2.02,2.25,0.75,0.28]],[5.83,[0.2,0.35,0.55,1.02,1.2,1.62,1.85,2.48,-0.08,0.72]],
[5.84,[0.05,0.25,0.72,0.92,1.3,1.42,1.98,2.12,0.5,0.38]],[5.85,[-0.12,0.4,0.62,0.78,1.15,1.58,1.72,2.32,0.15,0.9]],[5.86,[0.1,0.32,0.58,1.08,1.25,1.5,1.9,2.55,0.85,0.05]],[5.87,[0.0,0.45,0.68,0.95,1.35,1.65,2.05,2.2,0.22,0.58]],
[5.88,[0.15,0.28,0.52,0.85,1.12,1.45,1.78,2.4,0.62,0.35]],[5.89,[-0.05,0.38,0.75,1.0,1.28,1.55,1.95,2.28,0.1,0.62]],[5.9,[0.08,0.22,0.6,0.9,1.18,1.68,1.85,2.5,0.42,0.75]],[5.91,[0.18,0.48,0.65,1.05,1.4,1.52,2.1,2.18,-0.15,0.3]],
[5.92,[0.02,0.3,0.55,0.82,1.22,1.62,1.75,2.35,0.95,0.12]],[5.93,[0.12,0.42,0.7,0.98,1.32,1.45,1.92,2.45,0.25,0.58]],[5.94,[-0.08,0.35,0.58,0.88,1.1,1.58,2.0,2.22,0.72,0.2]],[5.95,[0.1,0.25,0.62,1.02,1.25,1.48,1.82,2.58,0.45,0.8]],
[5.96,[0.0,0.4,0.68,0.92,1.38,1.7,1.88,2.3,0.15,0.55]],[5.97,[0.2,0.32,0.52,0.8,1.15,1.55,2.08,2.4,0.98,0.1]],[5.98,[0.05,0.45,0.72,1.08,1.28,1.42,1.78,2.15,-0.12,0.6]],[5.99,[0.15,0.28,0.6,0.95,1.2,1.65,1.95,2.52,0.38,0.82]],
[6.0,[-0.02,0.38,0.55,0.85,1.35,1.52,1.72,2.25,0.68,0.2]],[6.01,[0.1,0.22,0.65,1.0,1.12,1.6,2.02,2.38,0.48,0.78]],[6.02,[0.18,0.42,0.75,0.9,1.3,1.45,1.85,2.12,0.05,0.55]],[6.03,[0.02,0.35,0.58,0.82,1.22,1.68,1.92,2.45,1.05,0.15]],
[6.04,[0.12,0.3,0.62,1.05,1.18,1.5,1.75,2.2,-0.1,0.85]],[6.05,[-0.08,0.45,0.7,0.95,1.4,1.58,2.05,2.32,0.25,0.55]],[6.06,[0.08,0.28,0.52,0.88,1.25,1.42,1.82,0.68,0.4,0.1]],[6.07,[0.15,0.38,0.65,1.02,1.15,1.62,1.95,0.0,0.82,0.5]],
[6.08,[0.02,0.32,0.58,0.92,1.32,1.48,1.72,2.15,0.2,0.75]],[6.09,[0.1,0.45,0.72,0.85,1.2,1.55,1.88,0.6,-0.15]],[6.1,[-0.05,0.25,0.55,0.98,1.1,1.38,1.68,0.42,0.78]],
[6.11,[0.18,0.5,0.9,1.3,1.62]],[6.12,[0.05,0.38,0.75,1.15,1.5,2.05]],[6.13,[0.28,0.62,1.02,1.42,-0.1]],[6.14,[0.12,0.48,0.85,1.25,1.78]],[6.15,[0.35,0.7,1.1,1.55,0.0]],[6.16,[0.2,0.58,0.95,1.38,1.92]],[6.17,[0.08,0.42,0.8,1.2,1.6]],[6.18,[0.3,0.65,1.05,1.48,-0.05]],[6.19,[0.15,0.52,0.88,1.32,1.7]],
[6.2,[0.4,0.75,1.15,0.05]],[6.21,[0.22,0.6,0.98,1.45]],[6.22,[0.1,0.48,0.85,1.28]],[6.23,[0.32,0.7,1.1,1.62]],[6.24,[0.18,0.55,0.92,1.4]],[6.25,[0.05,0.42,0.78,1.2]],[6.27,[0.28,0.62,1.05,1.5]],[6.29,[0.15,0.5,0.88,1.3]],
[6.31,[0.3,0.75,1.1]],[6.33,[0.5,0.2,1.35]],[6.35,[0.85,0.1]],
[5.625,[0.3,0.92,1.48,0.1,1.2]],[5.635,[0.65,0.05,1.3,1.75,0.45]],[5.645,[0.18,0.82,1.1,1.6,0.5]],[5.655,[0.4,1.0,-0.08,1.38,0.72]],[5.665,[0.12,0.58,0.9,1.55,1.92]],[5.675,[0.35,0.78,1.15,-0.1,1.68,0.2]],
[5.685,[0.05,0.48,0.68,1.25,1.5,0.92]],[5.695,[0.28,0.62,1.08,1.42,1.8,-0.05]],[5.705,[0.15,0.45,0.82,1.18,1.62,0.02,2.02]],[5.715,[0.38,0.58,0.95,1.32,1.75,0.1,0.7]],[5.725,[0.08,0.3,0.72,1.12,1.55,1.95,0.48]],[5.735,[0.22,0.52,0.88,1.28,1.42,-0.1,0.65]],
[5.745,[0.02,0.4,0.62,1.02,1.62,1.85,0.3]],[5.755,[0.28,0.48,0.8,1.2,1.35,0.12,0.95]],[5.765,[0.15,0.55,0.72,1.08,1.52,2.05,0.38]],[5.775,[0.05,0.32,0.85,1.3,1.45,0.6,0.2]],[5.785,[0.25,0.5,0.68,1.12,1.62,1.9,0.95]],[5.795,[-0.05,0.42,0.58,1.0,1.38,0.78,0.12]],
[5.805,[0.3,0.6,0.92,1.15,1.55,2.1,0.05]],[5.815,[0.18,0.35,0.75,1.22,1.42,0.55,0.02]],[5.825,[0.1,0.5,0.68,1.08,1.72,0.3,0.88]],[5.835,[0.25,0.42,0.82,1.3,1.52,1.98,0.62]],[5.845,[0.0,0.55,0.95,1.18,1.62,0.2,0.78]],[5.855,[0.32,0.48,0.7,1.05,1.4,0.12,1.82]],
[5.865,[0.15,0.62,0.9,1.28,1.55,0.4,0.72]],[5.875,[0.08,0.35,0.78,1.15,1.45,2.15,0.55]],[5.885,[0.25,0.5,0.95,1.22,1.7,0.0,0.7]],[5.895,[0.12,0.45,0.65,1.1,1.38,0.85,0.28]],[5.905,[0.3,0.55,0.8,1.3,1.58,2.0,0.05]],[5.915,[0.05,0.38,0.72,1.0,1.48,0.2,0.92]],
[5.925,[0.2,0.62,0.88,1.15,1.72,0.42,0.0]],[5.935,[0.1,0.32,0.78,1.25,1.4,0.55,1.88]],[5.945,[0.28,0.5,0.95,1.35,1.62,0.15,0.7]],[5.955,[0.0,0.42,0.68,1.12,1.5,0.85,0.3]],[5.965,[0.22,0.58,0.82,1.22,1.78,0.1,0.5]],[5.975,[0.12,0.38,0.72,1.05,1.45,2.2,0.9]],
[5.985,[0.3,0.52,0.88,1.32,1.6,0.05,0.68]],[5.995,[0.08,0.45,0.62,1.15,1.42,0.25,0.92]],[6.005,[0.25,0.55,0.78,1.02,1.68,0.12,0.4]],[6.015,[0.02,0.35,0.9,1.28,1.52,0.6,1.95]],[6.025,[0.2,0.48,0.7,1.1,1.4,0.88,0.1]],[6.035,[0.35,0.62,0.95,1.2,1.62,0.05,0.5]],
[6.045,[0.1,0.4,0.75,1.35,1.5,0.22,0.62]],[6.055,[0.28,0.52,0.85,1.08,1.72,0.0,0.4]],[6.065,[0.15,0.6,0.92,1.25,1.45,0.35,0.78]],[6.075,[0.05,0.42,0.7,1.12,1.58,0.25,1.9]],[6.085,[0.3,0.55,0.82,1.3,1.4,0.12,0.65]],[6.095,[0.18,0.48,0.75,1.05,1.62,0.38]],
[6.105,[0.08,0.35,0.92,1.2,1.5,0.62]],[6.115,[0.25,0.6,0.72,1.35,0.02]],[6.125,[0.12,0.45,0.85,1.08,1.6]],[6.135,[0.35,0.55,0.98,1.28,0.18]],[6.145,[0.05,0.4,0.75,1.2,1.48]],[6.155,[0.22,0.62,0.88,1.38,0.1]],[6.165,[0.15,0.48,0.7,1.1,1.55]],[6.175,[0.32,0.58,0.95,1.25]],[6.185,[0.08,0.42,0.82,1.42]]
];

// ---------------- drawing ----------------
const svg=d3.select('#chart');
const colors={eg:'#1f1fff',li:'#ff1a1a',al:'#118a11'};
const accColor='#c3e9ae';
const TOP=51.7,BOT=489;
function pairs(a){const r=[];for(let i=0;i<a.length;i+=2)r.push([a[i],a[i+1]]);return r;}
function cols(c){const r=[];c.forEach(([x,ys])=>ys.forEach(v=>r.push([x,v])));return r;}
const intFmt=d3.format('d');

function drawPanel(cfg){
  const x=d3.scaleLinear().domain([0,8]).range([cfg.left,cfg.right]);
  const y=d3.scaleLinear().domain(cfg.ydom).range([BOT,TOP]);
  const g=svg.append('g');
  const cid='clip'+cfg.id;
  svg.append('defs').append('clipPath').attr('id',cid).append('rect')
    .attr('x',cfg.left).attr('y',TOP).attr('width',cfg.right-cfg.left).attr('height',BOT-TOP);
  const pg=g.append('g').attr('clip-path',`url(#${cid})`);
  if(cfg.acc){
    const area=d3.area().x(d=>x(d[0])).y0(d=>y(d[1])).y1(y(cfg.accTop)).curve(d3.curveMonotoneX);
    pg.append('path').datum(cfg.acc).attr('d',area).attr('fill',accColor);
  }
  pg.append('g').selectAll('circle').data(cfg.points).join('circle')
    .attr('cx',d=>x(d[0])).attr('cy',d=>y(d[1])).attr('r',1.5)
    .attr('fill','#000').attr('fill-opacity',0.72);
  if(cfg.dense){
    // heavily over-plotted core: same marker, drawn a touch heavier so the blob reads as in the picture
    pg.append('g').selectAll('circle').data(cfg.dense).join('circle')
      .attr('cx',d=>x(d[0])).attr('cy',d=>y(d[1])).attr('r',1.95)
      .attr('fill','#000').attr('fill-opacity',0.85);
  }
  const line=d3.line().x(d=>x(d[0])).y(d=>y(d[1])).curve(d3.curveMonotoneX);
  cfg.lines.forEach(l=>{
    pg.append('path').datum(l.d).attr('d',line).attr('fill','none')
      .attr('stroke',colors[l.s]).attr('stroke-width',2.2).attr('stroke-opacity',0.82)
      .attr('stroke-dasharray',l.dash||null);
  });
  // axes
  const ax=g.append('g').attr('transform',`translate(0,${BOT})`)
    .call(d3.axisBottom(x).tickValues(xTicks).tickFormat(intFmt).tickSize(6).tickSizeOuter(0).tickPadding(8));
  const ay=g.append('g').attr('transform',`translate(${cfg.left},0)`)
    .call(d3.axisLeft(y).tickValues(cfg.yticks).tickFormat(intFmt).tickSize(6.5).tickSizeOuter(0).tickPadding(8));
  [ax,ay].forEach(a=>{
    a.select('.domain').remove();
    a.attr('font-family','DejaVu Sans').attr('font-size',15);
    a.selectAll('line').attr('stroke','#333').attr('stroke-width',1.4);
    a.selectAll('text').attr('fill','#222');
  });
  g.append('rect').attr('x',cfg.left).attr('y',TOP).attr('width',cfg.right-cfg.left).attr('height',BOT-TOP)
    .attr('fill','none').attr('stroke','#333').attr('stroke-width',1.5);
  // title
  svg.append('text').attr('x',cfg.titleX).attr('y',cfg.titleY).text(cfg.title)
    .attr('font-family','Liberation Serif, Times New Roman, serif').attr('font-size',cfg.titleSize)
    .attr('fill','#0000ff').attr('textLength',cfg.titleW).attr('lengthAdjust','spacingAndGlyphs');
  // legend
  const lg=svg.append('g').attr('font-family','DejaVu Sans').attr('font-size',15.5).attr('fill','#222');
  const L=cfg.legend;
  lg.append('rect').attr('x',L.x).attr('y',L.y).attr('width',L.w).attr('height',L.h).attr('rx',3)
    .attr('fill','#fff').attr('fill-opacity',0.85).attr('stroke','#d4d4d4').attr('stroke-width',1);
  cfg.legendItems.forEach((it,i)=>{
    const c=Math.floor(i/L.rows), r=i%L.rows;
    const hx=L.cols[c], cy=L.y+L.row0+r*L.dy;
    if(it[1]==='dot') lg.append('circle').attr('cx',hx+16).attr('cy',cy).attr('r',1.5).attr('fill','#000').attr('fill-opacity',0.72);
    else if(it[1]==='acc') lg.append('rect').attr('x',hx).attr('y',cy-5.5).attr('width',32).attr('height',11).attr('fill',accColor);
    else lg.append('line').attr('x1',hx).attr('x2',hx+32).attr('y1',cy).attr('y2',cy)
      .attr('stroke',colors[it[1]]).attr('stroke-width',2.2).attr('stroke-opacity',0.6);
    lg.append('text').attr('x',hx+44).attr('y',cy+5.5).text(it[0]);
  });
}

drawPanel({id:'L',left:76.7,right:816.7,ydom:[-2,4],yticks:yTicksL,
  points:pairs(ncalData),
  lines:[{d:egUpperL,s:'eg'},{d:egMeanL,s:'eg',dash:'9,5'},{d:egLowerL,s:'eg'},
         {d:liUpperL,s:'li'},{d:liMeanL,s:'li',dash:'8,4'},{d:liLowerL,s:'li'},
         {d:alUpperL,s:'al'},{d:alMeanL,s:'al',dash:'8,4'},{d:alLowerL,s:'al'}],
  title:titleL,titleX:225,titleY:46,titleW:378,titleSize:47,
  legend:{x:449,y:430,w:360,h:50,rows:2,row0:12.7,dy:23.3,cols:[455,700]},
  legendItems:legendL});

drawPanel({id:'R',left:880,right:1619,ydom:[-3,3],yticks:yTicksR,
  points:pairs(blindData),dense:cols(blindCluster),
  acc:accLowerR,accTop:accTopR,
  lines:[{d:egUpperR,s:'eg'},{d:egMeanR,s:'eg',dash:'9,5'},{d:egLowerR,s:'eg'},
         {d:liUpperR,s:'li'},{d:liMeanR,s:'li',dash:'8,4'},{d:liLowerR,s:'li'},
         {d:alUpperR,s:'al'},{d:alMeanR,s:'al',dash:'8,4'},{d:alLowerR,s:'al'}],
  title:titleR,titleX:1073,titleY:42,titleW:404,titleSize:44,
  legend:{x:1168,y:408,w:445,h:71,rows:3,row0:12.7,dy:22.7,cols:[1173,1418.5]},
  legendItems:legendR});

svg.append('text').attr('x',811).attr('y',542).attr('text-anchor','middle').text(xLabel)
  .attr('font-family','DejaVu Sans').attr('font-size',17.5).attr('fill','#222')
  .attr('textLength',202).attr('lengthAdjust','spacingAndGlyphs');
svg.append('text').attr('transform','translate(26,280) rotate(-90)').attr('text-anchor','middle').text(yLabel)
  .attr('font-family','DejaVu Sans').attr('font-size',17.5).attr('fill','#222')
  .attr('textLength',226).attr('lengthAdjust','spacingAndGlyphs');
</script>
</body></html>
